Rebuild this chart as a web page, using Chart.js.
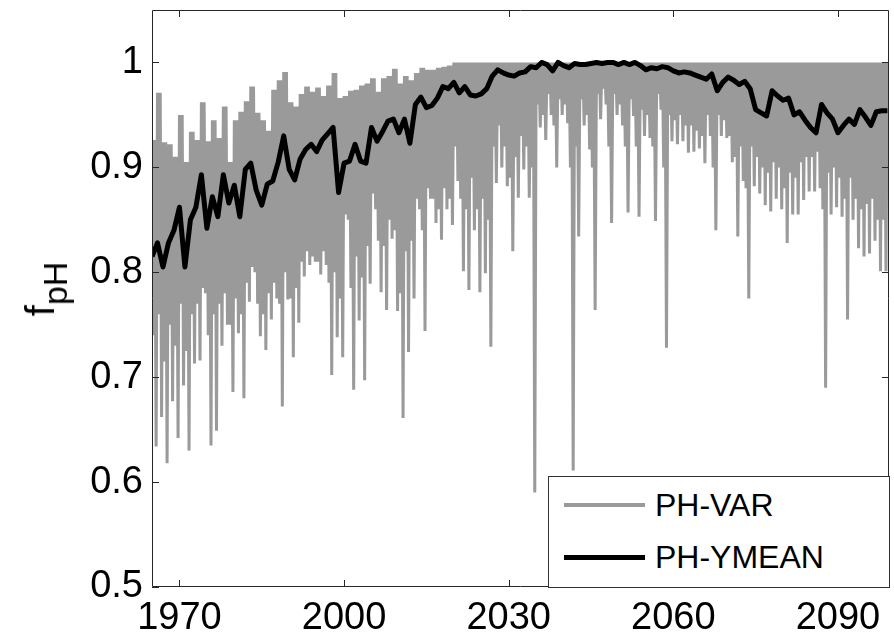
<!DOCTYPE html>
<html>
<head>
<meta charset="utf-8">
<title>fpH</title>
<script src="https://cdn.jsdelivr.net/npm/chart.js@4.4.1/dist/chart.umd.min.js"></script>
<style>
  body { margin: 0; background: #fff; }
  #wrap { position: relative; width: 894px; height: 637px; }
  #ytitle {
    position: absolute; left: 46px; top: 289px;
    transform: translate(-50%, -50%) rotate(-90deg);
    font: 40px 'Liberation Sans', Arial, Helvetica, sans-serif;
    line-height: 1; white-space: nowrap; color: #000;
  }
  #ytitle sub { font-size: 34px; vertical-align: -13px; line-height: 1; }
  #legend {
    position: absolute; left: 548px; top: 476px; width: 342px; height: 112px;
    box-sizing: border-box; border: 1px solid #333; background: #fff;
    font: 32px 'Liberation Sans', Arial, Helvetica, sans-serif; color: #000;
  }
  #legend .item { position: absolute; left: 15px; height: 36px; display: flex; align-items: center; white-space: nowrap; }
  #legend .swatch { display: inline-block; width: 81px; margin-right: 10px; }
</style>
</head>
<body>
<div id="wrap">
  <canvas id="phChart"></canvas>
  <div id="ytitle">f<sub>pH</sub></div>
  <div id="legend">
    <div class="item" style="top:10px"><span class="swatch" style="height:4px;background:#9a9a9a"></span>PH-VAR</div>
    <div class="item" style="top:62px"><span class="swatch" style="height:5px;background:#000"></span>PH-YMEAN</div>
  </div>
</div>
<script>
const firstYear = 1965

// monthly pH factor summarised per year, 1965-2099:
// highest month, lower edge of the bulk of months, lowest month
const varHigh = [
  0.926, 0.971, 0.924, 0.922, 0.910, 0.950, 0.905, 0.934, 0.926, 0.962,
  0.925, 0.945, 0.928, 0.958, 0.905, 0.945, 0.953, 0.963, 0.977, 0.952,
  0.945, 0.935, 0.974, 0.983, 0.991, 0.962, 0.958, 0.970, 0.977, 0.972,
  0.976, 0.968, 0.978, 0.990, 0.966, 0.968, 0.973, 0.974, 0.978, 0.980,
  0.985, 0.972, 0.985, 0.987, 0.994, 0.980, 0.987, 0.983, 0.990, 0.995,
  0.993, 0.993, 0.995, 0.996, 0.997, 1.000, 1.000, 1.000, 1.000, 1.000,
  1.000, 1.000, 1.000, 1.000, 1.000, 1.000, 1.000, 1.000, 1.000, 1.000,
  1.000, 1.000, 1.000, 1.000, 1.000, 1.000, 1.000, 1.000, 1.000, 1.000,
  1.000, 1.000, 1.000, 1.000, 1.000, 1.000, 1.000, 1.000, 1.000, 1.000,
  1.000, 1.000, 1.000, 1.000, 1.000, 1.000, 1.000, 1.000, 1.000, 1.000,
  1.000, 1.000, 1.000, 1.000, 1.000, 1.000, 1.000, 1.000, 1.000, 1.000,
  1.000, 1.000, 1.000, 1.000, 1.000, 1.000, 1.000, 1.000, 1.000, 1.000,
  1.000, 1.000, 1.000, 1.000, 1.000, 1.000, 1.000, 1.000, 1.000, 1.000,
  1.000, 1.000, 1.000, 1.000, 1.000
]
const varFloor = [
  0.740, 0.760, 0.715, 0.750, 0.730, 0.770, 0.725, 0.760, 0.770, 0.785,
  0.740, 0.760, 0.770, 0.780, 0.750, 0.775, 0.760, 0.790, 0.805, 0.770,
  0.760, 0.780, 0.790, 0.770, 0.800, 0.775, 0.785, 0.810, 0.820, 0.815,
  0.810, 0.820, 0.790, 0.800, 0.775, 0.855, 0.785, 0.815, 0.795, 0.825,
  0.875, 0.830, 0.825, 0.850, 0.840, 0.780, 0.820, 0.830, 0.870, 0.840,
  0.880, 0.870, 0.860, 0.880, 0.870, 0.920, 0.870, 0.860, 0.890, 0.860,
  0.870, 0.850, 0.920, 0.940, 0.920, 0.890, 0.910, 0.930, 0.920, 0.900,
  0.960, 0.950, 0.970, 0.940, 0.965, 0.960, 0.900, 0.920, 0.965, 0.950,
  0.900, 0.970, 0.975, 0.920, 0.970, 0.960, 0.920, 0.965, 0.920, 0.955,
  0.950, 0.920, 0.970, 0.900, 0.950, 0.945, 0.950, 0.940, 0.940, 0.935,
  0.930, 0.950, 0.900, 0.950, 0.945, 0.930, 0.910, 0.920, 0.880, 0.920,
  0.910, 0.900, 0.895, 0.905, 0.900, 0.880, 0.895, 0.890, 0.905, 0.910,
  0.910, 0.915, 0.860, 0.895, 0.900, 0.890, 0.870, 0.890, 0.870, 0.860,
  0.865, 0.870, 0.850, 0.850, 0.880
]
const varLow = [
  0.634, 0.662, 0.618, 0.677, 0.642, 0.692, 0.630, 0.713, 0.716, 0.780,
  0.635, 0.649, 0.730, 0.750, 0.686, 0.742, 0.680, 0.772, 0.800, 0.739,
  0.726, 0.755, 0.775, 0.672, 0.774, 0.719, 0.752, 0.796, 0.807, 0.810,
  0.798, 0.807, 0.702, 0.738, 0.719, 0.850, 0.688, 0.754, 0.697, 0.789,
  0.860, 0.781, 0.764, 0.832, 0.763, 0.661, 0.724, 0.775, 0.860, 0.744,
  0.870, 0.847, 0.831, 0.860, 0.845, 0.887, 0.801, 0.783, 0.840, 0.781,
  0.799, 0.729, 0.885, 0.900, 0.882, 0.820, 0.871, 0.898, 0.871, 0.590,
  0.938, 0.926, 0.950, 0.900, 0.950, 0.942, 0.611, 0.834, 0.940, 0.917,
  0.764, 0.946, 0.960, 0.847, 0.950, 0.940, 0.857, 0.949, 0.853, 0.930,
  0.928, 0.849, 0.955, 0.728, 0.925, 0.922, 0.925, 0.914, 0.915, 0.918,
  0.904, 0.930, 0.840, 0.930, 0.928, 0.905, 0.834, 0.887, 0.775, 0.882,
  0.875, 0.864, 0.858, 0.870, 0.860, 0.828, 0.855, 0.855, 0.869, 0.877,
  0.877, 0.880, 0.690, 0.855, 0.862, 0.853, 0.755, 0.850, 0.823, 0.815,
  0.818, 0.830, 0.801, 0.801, 0.845
]
// annual mean, 1965-2099
const yearMean = [
  0.815, 0.828, 0.805, 0.828, 0.840, 0.862, 0.805, 0.850, 0.862, 0.893,
  0.842, 0.872, 0.853, 0.893, 0.866, 0.883, 0.853, 0.898, 0.904, 0.878,
  0.864, 0.884, 0.887, 0.905, 0.930, 0.898, 0.888, 0.908, 0.917, 0.922,
  0.915, 0.926, 0.932, 0.938, 0.876, 0.904, 0.906, 0.922, 0.906, 0.904,
  0.938, 0.925, 0.934, 0.944, 0.946, 0.933, 0.946, 0.923, 0.960, 0.967,
  0.957, 0.959, 0.966, 0.977, 0.975, 0.981, 0.971, 0.977, 0.969, 0.968,
  0.970, 0.975, 0.987, 0.993, 0.990, 0.988, 0.987, 0.990, 0.991, 0.996,
  0.995, 1.000, 0.998, 0.992, 1.000, 0.997, 0.995, 0.999, 0.998, 0.998,
  0.999, 1.000, 0.999, 1.000, 1.000, 0.998, 1.000, 0.998, 1.000, 0.997,
  0.993, 0.995, 0.994, 0.996, 0.995, 0.992, 0.990, 0.991, 0.990, 0.988,
  0.986, 0.984, 0.989, 0.973, 0.981, 0.986, 0.983, 0.979, 0.982, 0.975,
  0.955, 0.952, 0.949, 0.973, 0.968, 0.964, 0.966, 0.950, 0.953, 0.945,
  0.938, 0.933, 0.960, 0.952, 0.946, 0.933, 0.940, 0.946, 0.941, 0.955,
  0.948, 0.940, 0.953, 0.954, 0.954
]

const xTicks = [1970, 2000, 2030, 2060, 2090]
const yTicks = [0.5, 0.6, 0.7, 0.8, 0.9, 1]

const fontFamily = "'Liberation Sans', Arial, Helvetica, sans-serif"
const axisColor = '#262626'

const years = yearMean.map((v, i) => firstYear + i)

// inside each year: peak, bulk, peak again, then the lowest month
const varPoints = []
years.forEach((yr, i) => {
  varPoints.push({ x: yr, y: varHigh[i] })
  varPoints.push({ x: yr + 0.25, y: varFloor[i] })
  varPoints.push({ x: yr + 0.5, y: varHigh[i] })
  varPoints.push({ x: yr + 0.75, y: varLow[i] })
})
const meanPoints = years.map((yr, i) => ({ x: yr, y: yearMean[i] }))

// matlab style box with inward tick marks on all four sides
const boxTicks = {
  id: 'boxTicks',
  afterDatasetsDraw(chart) {
    const { ctx, chartArea: a, scales: { x, y } } = chart
    const len = 7
    ctx.save()
    ctx.strokeStyle = axisColor
    ctx.lineWidth = 1
    ctx.beginPath()
    x.ticks.forEach(t => {
      const px = Math.round(x.getPixelForValue(t.value)) + 0.5
      ctx.moveTo(px, a.bottom); ctx.lineTo(px, a.bottom - len)
      ctx.moveTo(px, a.top); ctx.lineTo(px, a.top + len)
    })
    y.ticks.forEach(t => {
      const py = Math.round(y.getPixelForValue(t.value)) + 0.5
      ctx.moveTo(a.left, py); ctx.lineTo(a.left + len, py)
      ctx.moveTo(a.right, py); ctx.lineTo(a.right - len, py)
    })
    ctx.rect(a.left + 0.5, a.top + 0.5, a.right - a.left - 1, a.bottom - a.top - 1)
    ctx.stroke()
    ctx.restore()
  }
}

new Chart(document.getElementById('phChart'), {
  type: 'line',
  data: {
    datasets: [
      {
        label: 'PH-YMEAN',
        data: meanPoints,
        borderColor: '#000',
        borderWidth: 5,
        borderJoinStyle: 'round',
        pointRadius: 0,
        tension: 0,
        order: 0,
      },
      {
        label: 'PH-VAR',
        data: varPoints,
        borderColor: '#9a9a9a',
        borderWidth: 3,
        borderJoinStyle: 'bevel',
        pointRadius: 0,
        tension: 0,
        order: 1,
      },
    ]
  },
  options: {
    responsive: true,
    maintainAspectRatio: false,
    animation: false,
    layout: { padding: { top: 10, right: 5, bottom: 0, left: 0 } },
    scales: {
      x: {
        type: 'linear',
        min: 1965,
        max: 2099.3,
        grid: { display: false, drawTicks: false },
        border: { display: false },
        afterBuildTicks: s => { s.ticks = xTicks.map(v => ({ value: v })) },
        afterFit: s => { s.height = 50; s.paddingLeft = 0; s.paddingRight = 0 },
        ticks: {
          color: '#000',
          font: { family: fontFamily, size: 38 },
          padding: 9,
          maxRotation: 0,
          autoSkip: false,
          callback: v => String(v),
        },
      },
      y: {
        type: 'linear',
        min: 0.5,
        max: 1.05,
        grid: { display: false, drawTicks: false },
        border: { display: false },
        afterBuildTicks: s => { s.ticks = yTicks.map(v => ({ value: v })) },
        afterFit: s => { s.width = 152; s.paddingTop = 0; s.paddingBottom = 0 },
        ticks: {
          color: '#000',
          font: { family: fontFamily, size: 38 },
          padding: 9,
          callback: v => String(v),
        },
      },
    },
    plugins: {
      legend: { display: false },
      tooltip: { enabled: false },
    },
  },
  plugins: [boxTicks],
})
</script>
</body>
</html>
